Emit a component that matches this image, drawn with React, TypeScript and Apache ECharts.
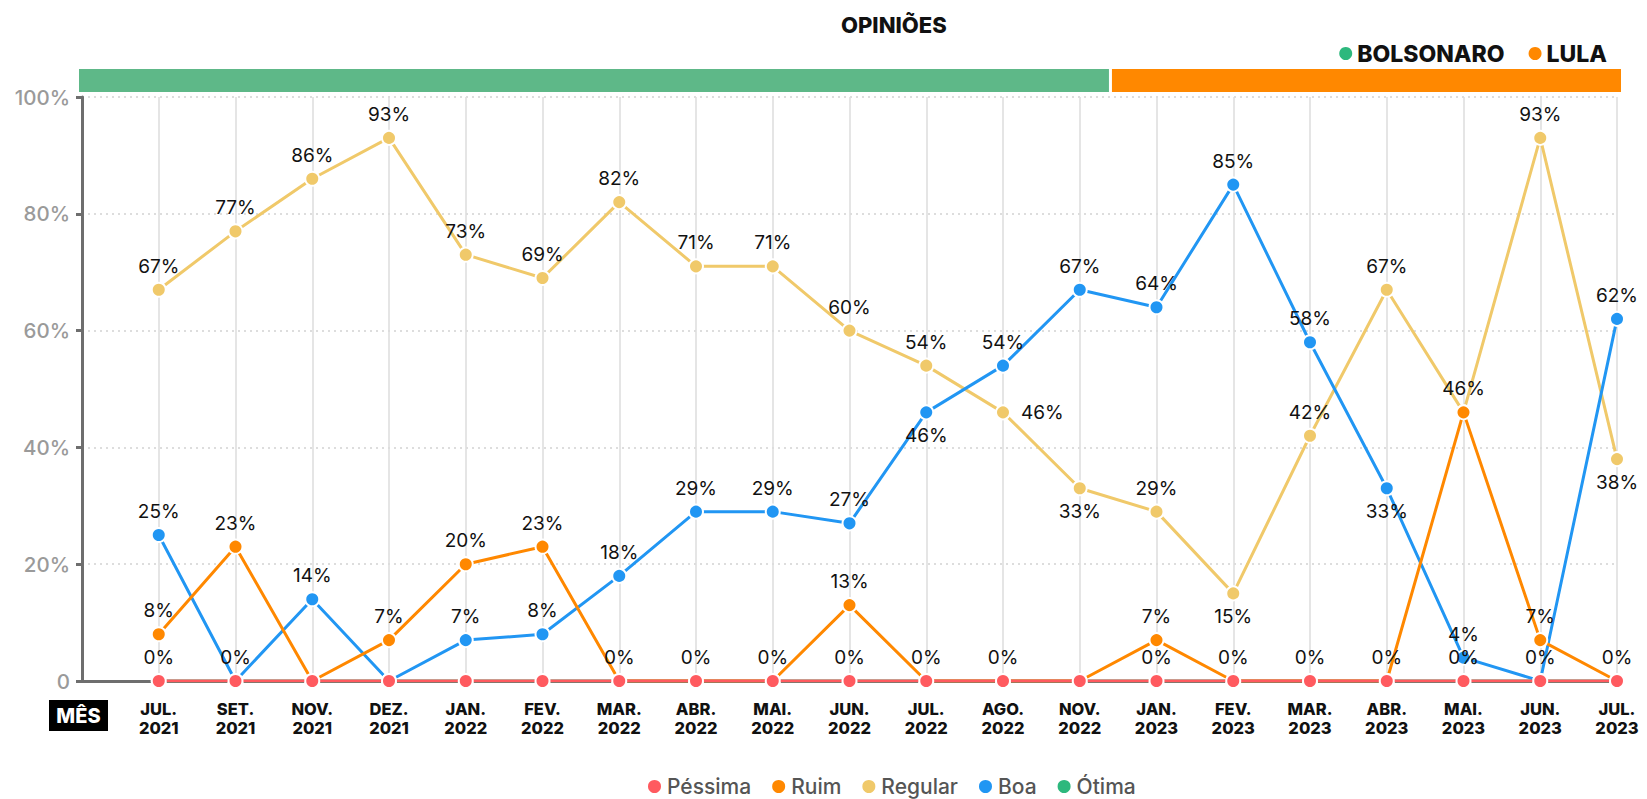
import React, { useEffect, useRef } from "react";
import * as echarts from "echarts";

const categories = [
  "JUL.\n2021", "SET.\n2021", "NOV.\n2021", "DEZ.\n2021", "JAN.\n2022",
  "FEV.\n2022", "MAR.\n2022", "ABR.\n2022", "MAI.\n2022", "JUN.\n2022",
  "JUL.\n2022", "AGO.\n2022", "NOV.\n2022", "JAN.\n2023", "FEV.\n2023",
  "MAR.\n2023", "ABR.\n2023", "MAI.\n2023", "JUN.\n2023", "JUL.\n2023",
];

const pessima = [0, 0, 0, 0, 0, 0, 0, 0, 0, 0, 0, 0, 0, 0, 0, 0, 0, 0, 0, 0];
const ruim = [8, 23, 0, 7, 20, 23, 0, 0, 0, 13, 0, 0, 0, 7, 0, 0, 0, 46, 7, 0];
const regular = [67, 77, 86, 93, 73, 69, 82, 71, 71, 60, 54, 46, 33, 29, 15, 42, 67, 46, 93, 38];
const boa = [25, 0, 14, 0, 7, 8, 18, 29, 29, 27, 46, 54, 67, 64, 85, 58, 33, 4, 0, 62];
const otima = [0, 0, 0, 0, 0, 0, 0, 0, 0, 0, 0, 0, 0, 0, 0, 0, 0, 0, 0, 0];

const yTicks = [0, 20, 40, 60, 80, 100];

// Government periods (in category-index units)
const periodNames = ["BOLSONARO", "LULA"];
const periodStarts = [-1, 12.4];
const periodEnds = [12.4, 19];

// Zero labels shown (Péssima) except at these categories
const hiddenZeroCats = [2, 3, 4, 5, 12];

const FONT = "Inter, 'Open Sans', sans-serif";

export default function App() {
  const ref = useRef<HTMLDivElement>(null);

  useEffect(() => {
    document.body.style.margin = "0";
    const chart = echarts.init(ref.current as HTMLDivElement, null, { renderer: "svg" });

    const labelPlacement: Record<string, string> = {
      "boa-10": "bottom",
      "regular-12": "bottom",
      "regular-14": "bottom",
      "boa-16": "bottom",
      "regular-19": "bottom",
      "regular-11": "right",
    };
    const hiddenLabels: Record<string, boolean> = { "regular-17": true };

    const makeLine = (name: string, key: string, values: number[], color: string, z: number) => ({
      name,
      type: "line",
      xAxisIndex: 0,
      yAxisIndex: 0,
      z,
      symbol: "circle",
      symbolSize: 14,
      itemStyle: { color, borderColor: "#fff", borderWidth: 2 },
      lineStyle: { color, width: 3 },
      label: {
        show: true,
        position: "top",
        distance: 6,
        color: "#111",
        fontSize: 19,
        fontFamily: FONT,
        formatter: (p: any) => `${p.value[1]}%`,
      },
      emphasis: { disabled: true },
      data: values.map((v, i) => {
        const id = `${key}-${i}`;
        let show = true;
        if (v === 0) show = key === "pessima" && !hiddenZeroCats.includes(i);
        if (hiddenLabels[id]) show = false;
        const item: any = { value: [i, v], label: { show } };
        if (labelPlacement[id]) {
          item.label.position = labelPlacement[id];
          if (labelPlacement[id] === "right") item.label.distance = 10;
        }
        return item;
      }),
    });

    const periodColors = ["#5eb888", "#ff8800"];
    const periodLegendColors = ["#2db87d", "#ff8800"];

    const periodSeries = periodNames.map((name, k) => ({
      name,
      type: "custom",
      xAxisIndex: 1,
      yAxisIndex: 1,
      itemStyle: { color: periodLegendColors[k] },
      renderItem: (params: any, api: any) => {
        const s = api.coord([api.value(0), 1]);
        const e = api.coord([api.value(1), 0]);
        const gapL = k === 0 ? -3 : 1.5;
        const gapR = k === 0 ? 1.5 : -4;
        return {
          type: "rect",
          shape: { x: s[0] + gapL, y: s[1], width: e[0] - s[0] - gapL - gapR, height: e[1] - s[1] },
          style: { fill: periodColors[k] },
        };
      },
      data: [[periodStarts[k], periodEnds[k]]],
    }));

    const option: any = {
      animation: false,
      textStyle: { fontFamily: FONT },
      title: {
        text: "OPINIÕES",
        left: 836,
        top: 9,
        textStyle: { fontSize: 22, fontWeight: 800, color: "#111", fontFamily: FONT },
      },
      legend: [
        {
          data: ["Péssima", "Ruim", "Regular", "Boa", "Ótima"],
          left: 641,
          top: 771,
          icon: "circle",
          itemWidth: 15,
          itemHeight: 15,
          itemGap: 19,
          selectedMode: false,
          textStyle: { fontSize: 21, color: "#555", fontWeight: 500, fontFamily: FONT },
        },
        {
          data: periodNames,
          right: 35,
          top: 37,
          icon: "circle",
          itemWidth: 13,
          itemHeight: 13,
          itemGap: 24,
          selectedMode: false,
          textStyle: { fontSize: 23, color: "#111", fontWeight: 800, fontFamily: FONT },
        },
      ],
      grid: [
        { left: 82, right: 30, top: 97, bottom: 118 },
        { left: 82, right: 30, top: 69, height: 23 },
      ],
      xAxis: [
        {
          type: "value",
          gridIndex: 0,
          min: -1,
          max: 19,
          interval: 1,
          axisLine: { show: true, onZero: false, lineStyle: { color: "#6e6e6e", width: 3 } },
          axisTick: { show: false },
          splitLine: { show: true, lineStyle: { color: "#dcdcdc", width: 1.5 } },
          axisLabel: {
            margin: 18,
            showMaxLabel: true,
            showMinLabel: true,
            color: "#111",
            fontWeight: 800,
            fontSize: 16.5,
            lineHeight: 19,
            fontFamily: FONT,
            formatter: (v: number) => {
              const i = Math.round(v);
              return i >= 0 && i < categories.length ? categories[i] : "";
            },
          },
        },
        { type: "value", gridIndex: 1, min: -1, max: 19, show: false },
      ],
      yAxis: [
        {
          type: "value",
          gridIndex: 0,
          min: yTicks[0],
          max: yTicks[yTicks.length - 1],
          interval: 20,
          axisLine: { show: true, onZero: false, lineStyle: { color: "#6e6e6e", width: 3 } },
          axisTick: { show: true, length: 6, lineStyle: { color: "#6e6e6e", width: 3 } },
          splitLine: { show: true, lineStyle: { color: "#dddddd", width: 2, type: [2, 4] } },
          axisLabel: {
            margin: 12,
            color: "#9a9a9a",
            fontSize: 20.5,
            fontWeight: 500,
            fontFamily: FONT,
            formatter: (v: number) => (v === 0 ? "0" : `${v}%`),
          },
        },
        { type: "value", gridIndex: 1, min: 0, max: 1, show: false },
      ],
      graphic: [
        {
          type: "rect",
          shape: { x: 49, y: 700, width: 59, height: 31 },
          style: { fill: "#000" },
        },
        {
          type: "text",
          x: 78.5,
          y: 716,
          style: {
            text: "MÊS",
            fill: "#fff",
            font: `800 20px ${FONT}`,
            textAlign: "center",
            textVerticalAlign: "middle",
          },
        },
      ],
      series: [
        makeLine("Ótima", "otima", otima, "#2db87d", 2),
        makeLine("Regular", "regular", regular, "#f0c96a", 3),
        makeLine("Boa", "boa", boa, "#2196f3", 4),
        makeLine("Ruim", "ruim", ruim, "#ff8800", 5),
        makeLine("Péssima", "pessima", pessima, "#ff5a5f", 6),
        ...periodSeries,
      ],
    };

    chart.setOption(option);
    return () => chart.dispose();
  }, []);

  return <div ref={ref} style={{ width: 1647, height: 799 }} />;
}
